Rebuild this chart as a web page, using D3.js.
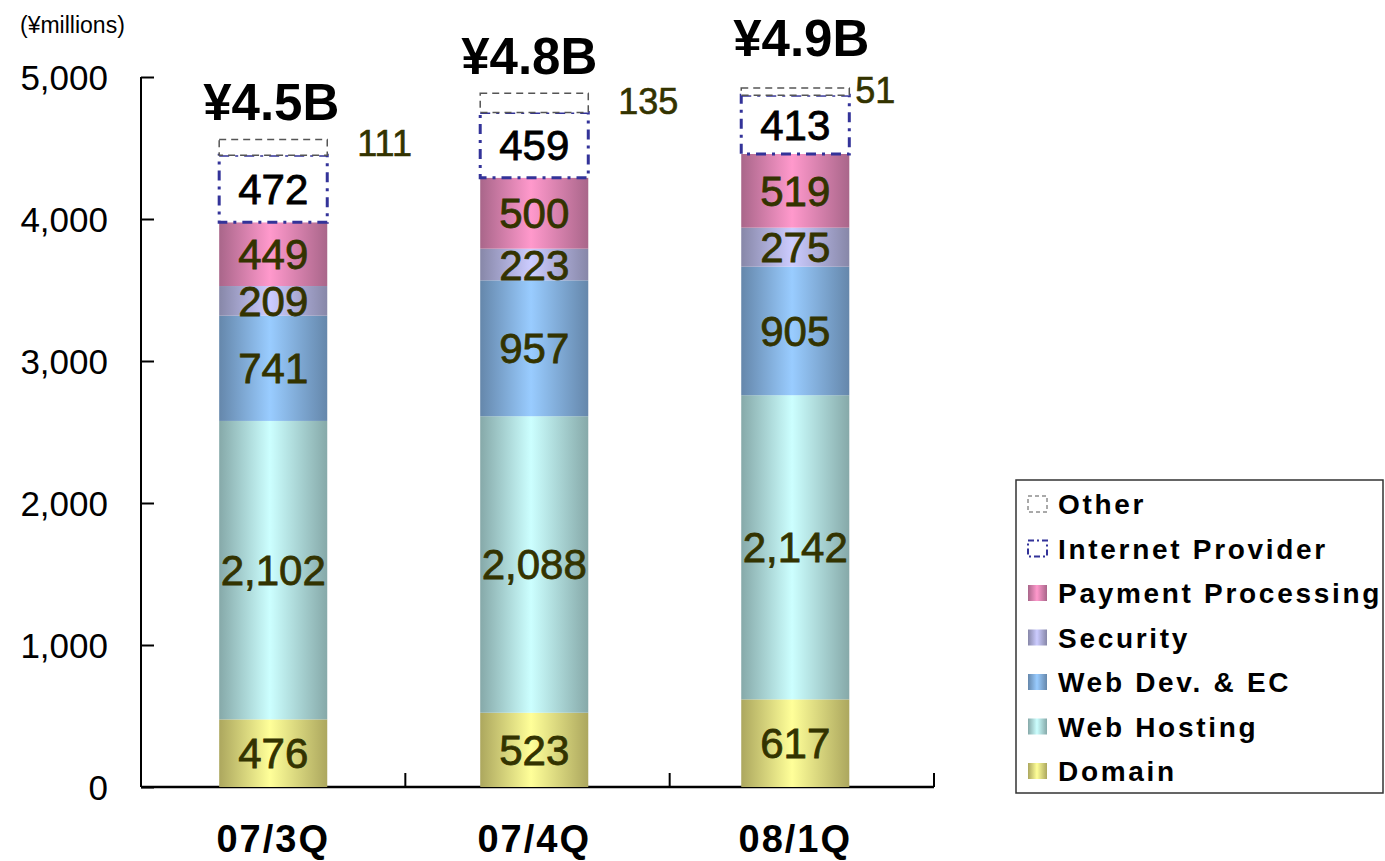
<!DOCTYPE html>
<html>
<head>
<meta charset="utf-8">
<script src="https://cdn.jsdelivr.net/npm/d3@7"></script>
<style>
  body { margin: 0; background: #fff; }
  svg { display: block; }
</style>
</head>
<body>
<div id="chart"></div>
<script>
// data
var quarters = ['07/3Q', '07/4Q', '08/1Q'];
var segments = ['Domain', 'Web Hosting', 'Web Dev. & EC', 'Security', 'Payment Processing', 'Internet Provider', 'Other'];
var domain      = [476, 523, 617];
var webHosting  = [2102, 2088, 2142];
var webDev      = [741, 957, 905];
var security    = [209, 223, 275];
var payment     = [449, 500, 519];
var provider    = [472, 459, 413];
var other       = [111, 135, 51];
var totalLabels = ['¥4.5B', '¥4.8B', '¥4.9B'];
var yTicks      = [0, 1000, 2000, 3000, 4000, 5000];

var series = [domain, webHosting, webDev, security, payment, provider, other];

// colours: [edge, centre]
var grads = [
  ['#aca75e', '#ffff99'],
  ['#86a9a9', '#ccffff'],
  ['#6587ab', '#99ccff'],
  ['#8787a8', '#ccccff'],
  ['#a9668a', '#ff99cc']
];
var labelColor = '#333300';

var W = 1385, H = 861;
var svg = d3.select('#chart').append('svg')
  .attr('width', W).attr('height', H)
  .style('font-family', '"Liberation Sans", Arial, sans-serif');

var defs = svg.append('defs');
grads.forEach(function(g, i){
  var lg = defs.append('linearGradient').attr('id', 'g' + i)
    .attr('x1', 0).attr('x2', 1).attr('y1', 0).attr('y2', 0);
  lg.append('stop').attr('offset', '0%').attr('stop-color', g[0]);
  lg.append('stop').attr('offset', '47%').attr('stop-color', g[1]);
  lg.append('stop').attr('offset', '100%').attr('stop-color', g[0]);
});

//scales
var y = d3.scaleLinear().domain([0, 5000]).range([787, 77]);
var xAxisScale = d3.scaleBand().domain(quarters).range([141, 934]).padding(0);
var x = d3.scaleBand().domain(quarters).range([141, 934])
  .paddingInner(0.586).paddingOuter(0.312).align(0.48);

// stack
var rows = quarters.map(function(q, i){
  var r = {q: q};
  segments.forEach(function(s, k){ r[s] = series[k][i]; });
  return r;
});
var stacked = d3.stack().keys(segments)(rows);

//axes
svg.append('g')
  .attr('transform', 'translate(141,0)')
  .call(d3.axisRight(y).tickValues(yTicks).tickSize(13).tickFormat(''))
  .call(function(g){ g.selectAll('line,path').attr('stroke', '#000').attr('stroke-width', 2); g.select('.domain').attr('d', 'M0,' + y(5000) + 'V' + y(0)); });

svg.append('g').selectAll('text')
  .data(yTicks).enter().append('text')
  .attr('x', 108).attr('y', function(d){ return y(d) + 13; })
  .attr('text-anchor', 'end')
  .attr('font-size', '35px')
  .text(d3.format(','));

svg.append('text')
  .attr('x', 20).attr('y', 33)
  .attr('font-size', '23px')
  .text('(¥millions)');

// x axis baseline + ticks
var xa = svg.append('g');
xa.append('line')
  .attr('x1', 141).attr('x2', 934).attr('y1', y(0)).attr('y2', y(0))
  .attr('stroke', '#000').attr('stroke-width', 2.5);
xa.selectAll('.tk').data(quarters).enter().append('line')
  .attr('x1', function(d){ return xAxisScale(d) + xAxisScale.bandwidth(); })
  .attr('x2', function(d){ return xAxisScale(d) + xAxisScale.bandwidth(); })
  .attr('y1', y(0)).attr('y2', y(0) - 14)
  .attr('stroke', '#000').attr('stroke-width', 2);

xa.selectAll('.cat').data(quarters).enter().append('text')
  .attr('x', function(d){ return x(d) + x.bandwidth() / 2; })
  .attr('y', 852)
  .attr('text-anchor', 'middle')
  .attr('font-size', '38px')
  .attr('font-weight', 'bold')
  .style('letter-spacing', '2px')
  .text(function(d){ return d; });

// bars
stacked.forEach(function(layer, k){
  var g = svg.append('g');
  var rects = g.selectAll('rect').data(layer).enter().append('rect')
    .attr('x', function(d){ return x(d.data.q); })
    .attr('width', x.bandwidth())
    .attr('y', function(d){ return y(d[1]); })
    .attr('height', function(d){ return y(d[0]) - y(d[1]); });
  if (k < 5) {
    rects.attr('fill', 'url(#g' + k + ')');
  } else if (k == 5) {
    rects.attr('fill', '#fff').attr('stroke', '#333399').attr('stroke-width', 3)
      .attr('stroke-dasharray', '10,6,3,6');
  } else {
    rects.attr('fill', '#fff').attr('stroke', '#555').attr('stroke-width', 1.5)
      .attr('stroke-dasharray', '7,5');
  }
});

// values inside segments
stacked.forEach(function(layer, k){
  if (k == 6) return;
  svg.append('g').selectAll('text').data(layer).enter().append('text')
    .attr('x', function(d){ return x(d.data.q) + x.bandwidth() / 2; })
    .attr('y', function(d){ return (y(d[0]) + y(d[1])) / 2 + 15; })
    .attr('text-anchor', 'middle')
    .attr('font-size', '42px')
    .attr('fill', k == 5 ? '#000' : labelColor)
    .attr('stroke', k == 5 ? '#000' : labelColor)
    .attr('stroke-width', 0.8)
    .text(function(d){ return d3.format(',')(d[1] - d[0]); });
});

// "Other" values beside the bars
var otherNudge = [[0, 0], [0, 0], [-24, 7]];
svg.append('g').selectAll('text').data(stacked[6]).enter().append('text')
  .attr('x', function(d, i){ return x(d.data.q) + x.bandwidth() + 30 + otherNudge[i][0]; })
  .attr('y', function(d, i){ return y(d[0]) + 1 + otherNudge[i][1]; })
  .attr('font-size', '36px')
  .attr('fill', labelColor)
  .attr('stroke', labelColor).attr('stroke-width', 0.6)
  .text(function(d){ return d[1] - d[0]; });

// totals
var totalNudge = [[-2, 0], [-5, 0], [6, -13]];
svg.append('g').selectAll('text').data(stacked[6]).enter().append('text')
  .attr('x', function(d, i){ return x(d.data.q) + x.bandwidth() / 2 + totalNudge[i][0]; })
  .attr('y', function(d, i){ return y(d[1]) - 19 + totalNudge[i][1]; })
  .attr('text-anchor', 'middle')
  .attr('font-size', '51px')
  .attr('font-weight', 'bold')
  .text(function(d, i){ return totalLabels[i]; });

// legend
var lg = svg.append('g');
lg.append('rect')
  .attr('x', 1016).attr('y', 480).attr('width', 367).attr('height', 313)
  .attr('fill', '#fff').attr('stroke', '#333').attr('stroke-width', 1.5);

var legendOrder = segments.slice().reverse();
var item = lg.selectAll('.item').data(legendOrder).enter().append('g')
  .attr('transform', function(d, i){ return 'translate(1028,' + (504 + i * 44.5) + ')'; });

item.append('rect')
  .attr('x', 0).attr('y', -8).attr('width', 19).attr('height', 16)
  .each(function(d){
    var k = segments.indexOf(d);
    var r = d3.select(this);
    if (k < 5) r.attr('fill', 'url(#g' + k + ')');
    else if (k == 5) r.attr('fill', '#fff').attr('stroke', '#333399').attr('stroke-width', 2).attr('stroke-dasharray', '6,3,2,3');
    else r.attr('fill', '#fff').attr('stroke', '#555').attr('stroke-width', 1).attr('stroke-dasharray', '4,3');
  });

item.append('text')
  .attr('x', 30).attr('y', 10)
  .attr('font-size', '28px')
  .attr('font-weight', 'bold')
  .style('letter-spacing', '2.7px')
  .text(function(d){ return d; });
</script>
</body>
</html>
